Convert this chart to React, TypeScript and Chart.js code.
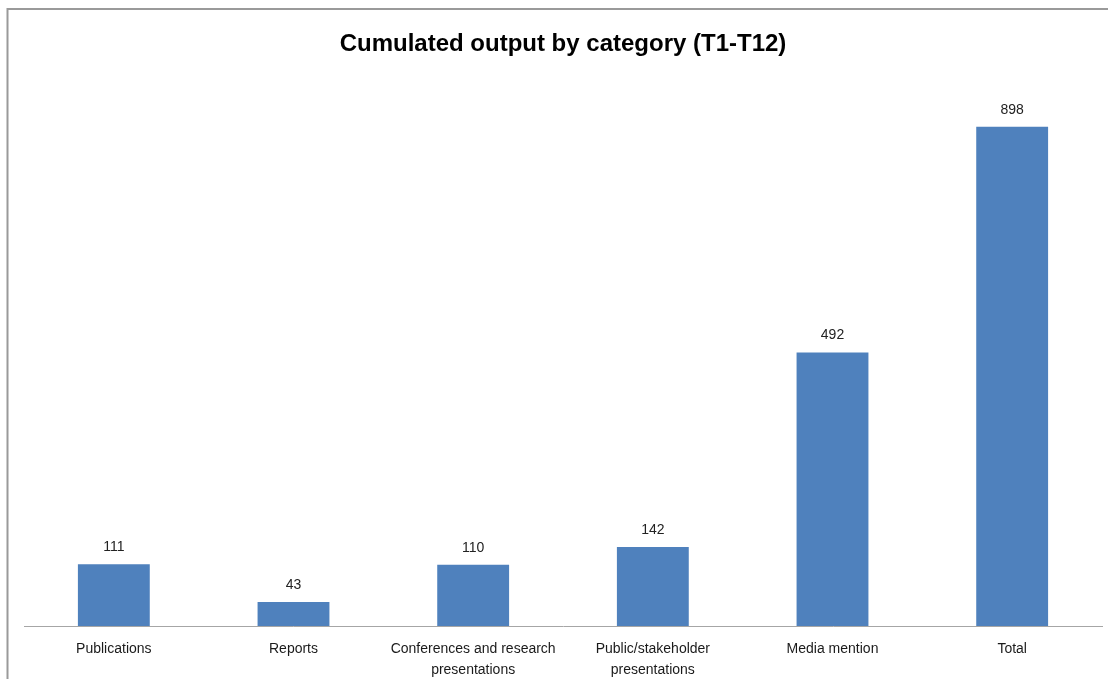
import React, { useEffect, useRef } from "react";
import { Chart, registerables } from "chart.js";

Chart.register(...registerables);

const TITLE = "Cumulated output by category (T1-T12)";
const categories: (string | string[])[] = [
  "Publications",
  "Reports",
  ["Conferences and research", "presentations"],
  ["Public/stakeholder", "presentations"],
  "Media mention",
  "Total",
];
const outputs = [111, 43, 110, 142, 492, 898];
const AXIS_MAX = 1000;

const FONT = "'Liberation Sans', 'DejaVu Sans', sans-serif";
const BAR_COLOR = "#4F81BD";

// Frame of the chart box plus the centred bold title
const framePlugin = {
  id: "frameAndTitle",
  beforeDraw(chart: Chart) {
    const { ctx, width } = chart;
    ctx.save();
    ctx.fillStyle = "#ffffff";
    ctx.fillRect(0, 0, chart.width, chart.height);
    ctx.strokeStyle = "#9a9a9a";
    ctx.lineWidth = 2;
    ctx.beginPath();
    ctx.moveTo(7.5, chart.height + 5);
    ctx.lineTo(7.5, 9);
    ctx.lineTo(width + 5, 9);
    ctx.stroke();
    ctx.fillStyle = "#000000";
    ctx.font = `bold 24px ${FONT}`;
    ctx.textAlign = "center";
    ctx.textBaseline = "middle";
    ctx.fillText(TITLE, 563, 44);
    ctx.restore();
  },
};

// Value labels above each bar
const valueLabelPlugin = {
  id: "valueLabels",
  afterDatasetsDraw(chart: Chart) {
    const { ctx } = chart;
    const meta = chart.getDatasetMeta(0);
    const data = chart.data.datasets[0].data as number[];
    ctx.save();
    ctx.fillStyle = "#222222";
    ctx.font = `14px ${FONT}`;
    ctx.textAlign = "center";
    ctx.textBaseline = "middle";
    meta.data.forEach((bar: any, i: number) => {
      ctx.fillText(String(data[i]), bar.x, bar.y - 17);
    });
    ctx.restore();
  },
};

export default function App() {
  const canvasRef = useRef<HTMLCanvasElement | null>(null);

  useEffect(() => {
    if (!canvasRef.current) return;
    const chart = new Chart(canvasRef.current, {
      type: "bar",
      data: {
        labels: categories,
        datasets: [
          {
            data: outputs,
            backgroundColor: BAR_COLOR,
            borderWidth: 0,
            barPercentage: 0.4,
            categoryPercentage: 1,
          },
        ],
      },
      options: {
        animation: false,
        responsive: false,
        layout: { padding: { top: 70, left: 24, right: 6, bottom: 0 } },
        plugins: {
          legend: { display: false },
          title: { display: false },
          tooltip: { enabled: false },
        },
        scales: {
          x: {
            grid: { display: false, drawTicks: false },
            border: { display: true, color: "#a6a6a6", width: 1 },
            ticks: {
              color: "#1a1a1a",
              font: { family: FONT, size: 14, lineHeight: 1.5 },
              padding: 13,
              maxRotation: 0,
              autoSkip: false,
            },
            afterFit(scale: any) {
              scale.height = 53;
            },
          },
          y: {
            display: false,
            min: 0,
            max: AXIS_MAX,
          },
        },
      },
      plugins: [framePlugin, valueLabelPlugin],
    });
    return () => chart.destroy();
  }, []);

  return (
    <div style={{ position: "fixed", left: 0, top: 0, width: 1108, height: 679 }}>
      <canvas ref={canvasRef} width={1108} height={679} />
    </div>
  );
}
